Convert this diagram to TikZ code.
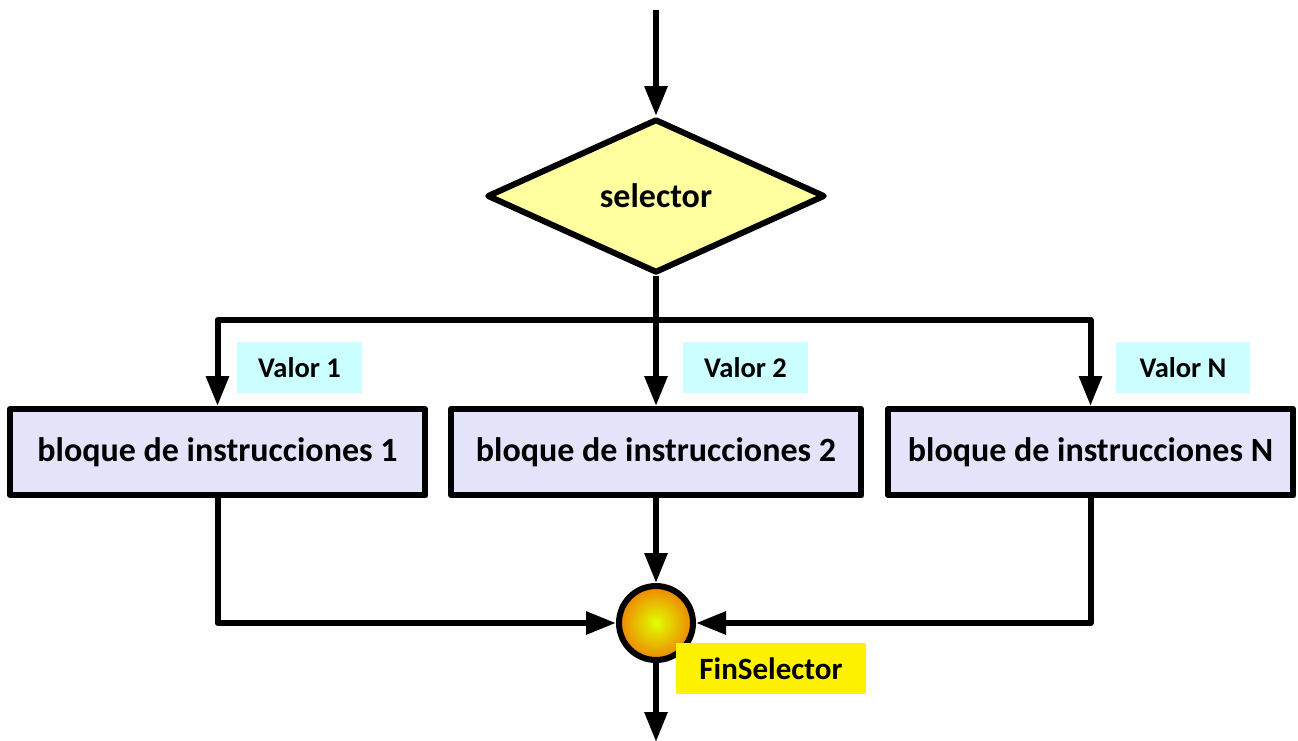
\documentclass[tikz,border=0pt]{standalone}
\usepackage{fontspec}
\setmainfont{Carlito}
\usepackage{tkz-euclide}
\usetikzlibrary{shapes.geometric,arrows.meta,shadows}

\definecolor{fondo}{RGB}{253,254,253}
\definecolor{lila}{RGB}{227,228,249}
\definecolor{amarillo}{RGB}{255,255,160}
\definecolor{cian}{RGB}{204,255,255}
\definecolor{naranja}{RGB}{238,132,0}
\definecolor{lima}{RGB}{225,255,0}

\begin{document}
\begin{tikzpicture}[x=1pt, y=-1pt,
    linea/.style={line width=6pt, line join=round},
    flecha/.style={linea, -{Triangle[length=30pt,width=22pt]}},
    bloque/.style={draw, linea, fill=lila, minimum height=86pt, inner sep=0pt,
      font=\fontsize{34}{40}\selectfont\bfseries,
      drop shadow={shadow xshift=3pt, shadow yshift=-3pt, fill=black!45, opacity=.7}},
    valor/.style={fill=cian, minimum height=51pt, inner sep=0pt,
      font=\fontsize{28.5}{34}\selectfont\bfseries}]
    \useasboundingbox (0,0) rectangle (1298,740);
    \fill[fondo] (0,0) rectangle (1298,740);
    \tkzDefPoints{656/10/T,656/196/S,656/320/J,217.5/452/P1,656/452/P2,1090.5/452/PN,656/623/F,656/742/E}
    \tkzDefPoints{299.5/367.5/V1,745.5/367.5/V2,1183/367.5/VN,771/668.5/VF}
    \node[draw, linea, shape=diamond, fill=amarillo, inner sep=0pt, aspect=2,
      minimum width=338pt, minimum height=154pt,
      font=\fontsize{34}{40}\selectfont\bfseries] (sel) at (S) {selector};
    \node[bloque, minimum width=415pt] (b1) at (P1) {bloque de instrucciones 1};
    \node[bloque, minimum width=410pt] (b2) at (P2) {bloque de instrucciones 2};
    \node[bloque, minimum width=405pt] (bN) at (PN) {bloque de instrucciones N};
    \node[valor, minimum width=125pt] (v1) at (V1) {Valor 1};
    \node[valor, minimum width=125pt] (v2) at (V2) {Valor 2};
    \node[valor, minimum width=134pt] (vN) at (VN) {Valor N};
    \node[draw, linea, circle, minimum size=74pt, inner sep=0pt,
      inner color=lima, outer color=naranja] (fin) at (F) {};
    \node[fill=yellow, minimum width=190pt, minimum height=51pt, inner sep=0pt,
      font=\fontsize{31}{36}\selectfont\bfseries] (finl) at (VF) {FinSelector};
    % ramas del selector
    \draw[flecha] (T) -- (sel.north);
    \draw[linea] (sel.south) -- (J);
    \draw[flecha] (J) -| (b1.north);
    \draw[flecha] (J) -- (b2.north);
    \draw[flecha] (J) -| (bN.north);
    % cierre
    \draw[flecha] (b1.south) |- (fin.west);
    \draw[flecha] (b2.south) -- (fin.north);
    \draw[flecha] (bN.south) |- (fin.east);
    \draw[flecha] (fin.south) -- (E);
\end{tikzpicture}
\end{document}
